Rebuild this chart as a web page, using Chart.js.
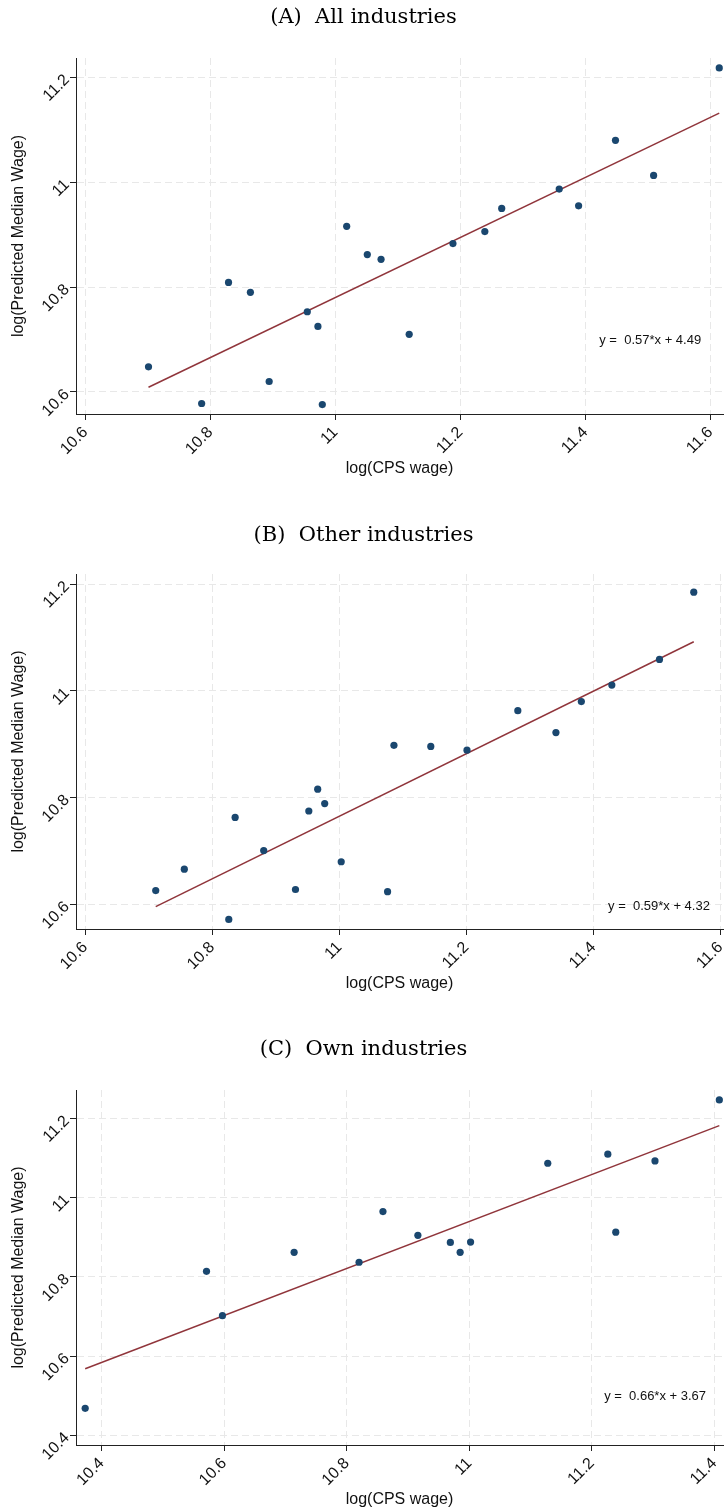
<!DOCTYPE html>
<html>
<head>
<meta charset="utf-8">
<script src="https://cdn.jsdelivr.net/npm/chart.js"></script>
<style>
    html, body { margin: 0; padding: 0; background: #fff; overflow: hidden; }
    body { width: 727px; height: 1511px; position: relative; }
    .wrap { position: absolute; left: 0; width: 727px; }
</style>
</head>
<body>
<div class="wrap" style="top: 0px; height: 500px;"><canvas id="scatter-all"></canvas></div>
<div class="wrap" style="top: 518px; height: 497px;"><canvas id="scatter-other"></canvas></div>
<div class="wrap" style="top: 1032px; height: 499px;"><canvas id="scatter-own"></canvas></div>

<script>
// (A) All industries
const xA = [10.701, 10.786, 10.829, 10.864, 10.894, 10.955, 10.972, 10.979, 11.018, 11.051,
            11.073, 11.118, 11.188, 11.239, 11.266, 11.358, 11.389, 11.448, 11.509, 11.614];
const yA = [10.648, 10.578, 10.809, 10.790, 10.620, 10.753, 10.725, 10.576, 10.916, 10.862,
            10.853, 10.710, 10.883, 10.906, 10.950, 10.987, 10.955, 11.080, 11.013, 11.218];
const fitXA = [10.701, 11.614];
const fitYA = [10.609, 11.132];

// (B) Other industries
const xB = [10.711, 10.756, 10.826, 10.836, 10.881, 10.931, 10.952, 10.966, 10.977, 11.003,
            11.076, 11.086, 11.144, 11.201, 11.281, 11.341, 11.381, 11.429, 11.504, 11.558];
const yB = [10.626, 10.666, 10.572, 10.763, 10.701, 10.628, 10.775, 10.816, 10.789, 10.680,
            10.624, 10.898, 10.896, 10.889, 10.963, 10.922, 10.980, 11.011, 11.059, 11.185];
const fitXB = [10.711, 11.558];
const fitYB = [10.596, 11.092];

// (C) Own industries
const xC = [10.373, 10.571, 10.597, 10.714, 10.820, 10.859, 10.916, 10.969, 10.985, 11.002,
            11.128, 11.226, 11.239, 11.303, 11.408];
const yC = [10.468, 10.814, 10.702, 10.862, 10.837, 10.965, 10.905, 10.887, 10.862, 10.888,
            11.087, 11.110, 10.913, 11.093, 11.247];
const fitXC = [10.373, 11.408];
const fitYC = [10.568, 11.182];

// tick labels
const ticksXAB = [10.6, 10.8, 11, 11.2, 11.4, 11.6];
const ticksYAB = [10.6, 10.8, 11, 11.2];
const ticksXC = [10.4, 10.6, 10.8, 11, 11.2, 11.4];
const ticksYC = [10.4, 10.6, 10.8, 11, 11.2];

// fitted equations (text, x, y in data units)
const eqA = ['y =  0.57*x + 4.49', 11.422, 10.698];
const eqB = ['y =  0.59*x + 4.32', 11.423, 10.597];
const eqC = ['y =  0.66*x + 3.67', 11.220, 10.498];

function toPoints(xs, ys) {
    return xs.map(function(x, i) { return {x: x, y: ys[i]}; });
}

// draws the equation text at data coordinates
const equationLabel = {
    id: 'equationLabel',
    afterDatasetsDraw: function(chart, args, opts) {
        const ctx = chart.ctx;
        ctx.save();
        ctx.font = '13px "Liberation Sans", Arial, sans-serif';
        ctx.fillStyle = '#111';
        ctx.textAlign = 'left';
        ctx.textBaseline = 'middle';
        ctx.fillText(opts.text[0], chart.scales.x.getPixelForValue(opts.text[1]),
                     chart.scales.y.getPixelForValue(opts.text[2]));
        ctx.restore();
    }
};

function makeScatter(id, title, titleBottom, xs, ys, fx, fy, xr, yr, xt, yt, eq) {
    const axisFont = {family: '"Liberation Sans", Arial, sans-serif', size: 16};

    new Chart(document.getElementById(id), {
        type: 'scatter',
        data: {
            datasets: [{
                data: toPoints(xs, ys),
                backgroundColor: '#1a476f',
                borderWidth: 0,
                pointRadius: 3.6,
                clip: false
            }, {
                type: 'line',
                data: toPoints(fx, fy),
                borderColor: '#90353b',
                borderWidth: 1.5,
                pointRadius: 0,
                fill: false,
                clip: false
            }]
        },
        options: {
            responsive: true,
            maintainAspectRatio: false,
            animation: false,
            layout: { padding: 0 },
            plugins: {
                legend: { display: false },
                tooltip: { enabled: false },
                title: {
                    display: true,
                    text: title,
                    color: '#000',
                    font: {family: '"DejaVu Serif", serif', size: 21, weight: 'normal'},
                    padding: {top: 5, bottom: titleBottom}
                },
                equationLabel: { text: eq }
            },
            scales: {
                x: {
                    type: 'linear',
                    min: xr[0],
                    max: xr[1],
                    afterBuildTicks: function(scale) {
                        scale.ticks = xt.map(function(v) { return {value: v}; });
                    },
                    afterFit: function(scale) {
                        scale.height = 86;
                        scale.paddingLeft = 0; scale.paddingRight = 0;
                        scale.paddingTop = 0; scale.paddingBottom = 0;
                    },
                    grid: {
                        color: '#e8e8e8',
                        lineWidth: 1,
                        tickColor: '#222',
                        tickLength: 6
                    },
                    border: { display: true, color: '#222', width: 1, dash: [7, 4] },
                    ticks: {
                        color: '#111',
                        font: axisFont,
                        padding: 3,
                        minRotation: 45,
                        maxRotation: 45,
                        callback: function(value) { return String(value); }
                    },
                    title: {
                        display: true,
                        text: 'log(CPS wage)',
                        color: '#111',
                        font: axisFont,
                        padding: {top: 0, bottom: 22}
                    }
                },
                y: {
                    type: 'linear',
                    min: yr[0],
                    max: yr[1],
                    afterBuildTicks: function(scale) {
                        scale.ticks = yt.map(function(v) { return {value: v}; });
                    },
                    afterFit: function(scale) {
                        scale.width = 76;
                        scale.paddingLeft = 0; scale.paddingRight = 0;
                        scale.paddingTop = 0; scale.paddingBottom = 0;
                    },
                    grid: {
                        color: '#e8e8e8',
                        lineWidth: 1,
                        tickColor: '#222',
                        tickLength: 6
                    },
                    border: { display: true, color: '#222', width: 1, dash: [7, 4] },
                    ticks: {
                        color: '#111',
                        font: axisFont,
                        padding: 3,
                        minRotation: 45,
                        maxRotation: 45,
                        callback: function(value) { return String(value); }
                    },
                    title: {
                        display: true,
                        text: 'log(Predicted Median Wage)',
                        color: '#111',
                        font: axisFont,
                        padding: {top: 9, bottom: 0}
                    }
                }
            }
        },
        plugins: [equationLabel]
    });
}

document.addEventListener('DOMContentLoaded', function() {
    makeScatter('scatter-all', '(A)  All industries', 27.8, xA, yA, fitXA, fitYA,
                [10.585, 11.62], [10.558, 11.237], ticksXAB, ticksYAB, eqA);
    makeScatter('scatter-other', '(B)  Other industries', 25.8, xB, yB, fitXB, fitYB,
                [10.5855, 11.604], [10.554, 11.219], ticksXAB, ticksYAB, eqB);
    makeScatter('scatter-own', '(C)  Own industries', 27.8, xC, yC, fitXC, fitYC,
                [10.358, 11.414], [10.3755, 11.272], ticksXC, ticksYC, eqC);
});
</script>
</body>
</html>
